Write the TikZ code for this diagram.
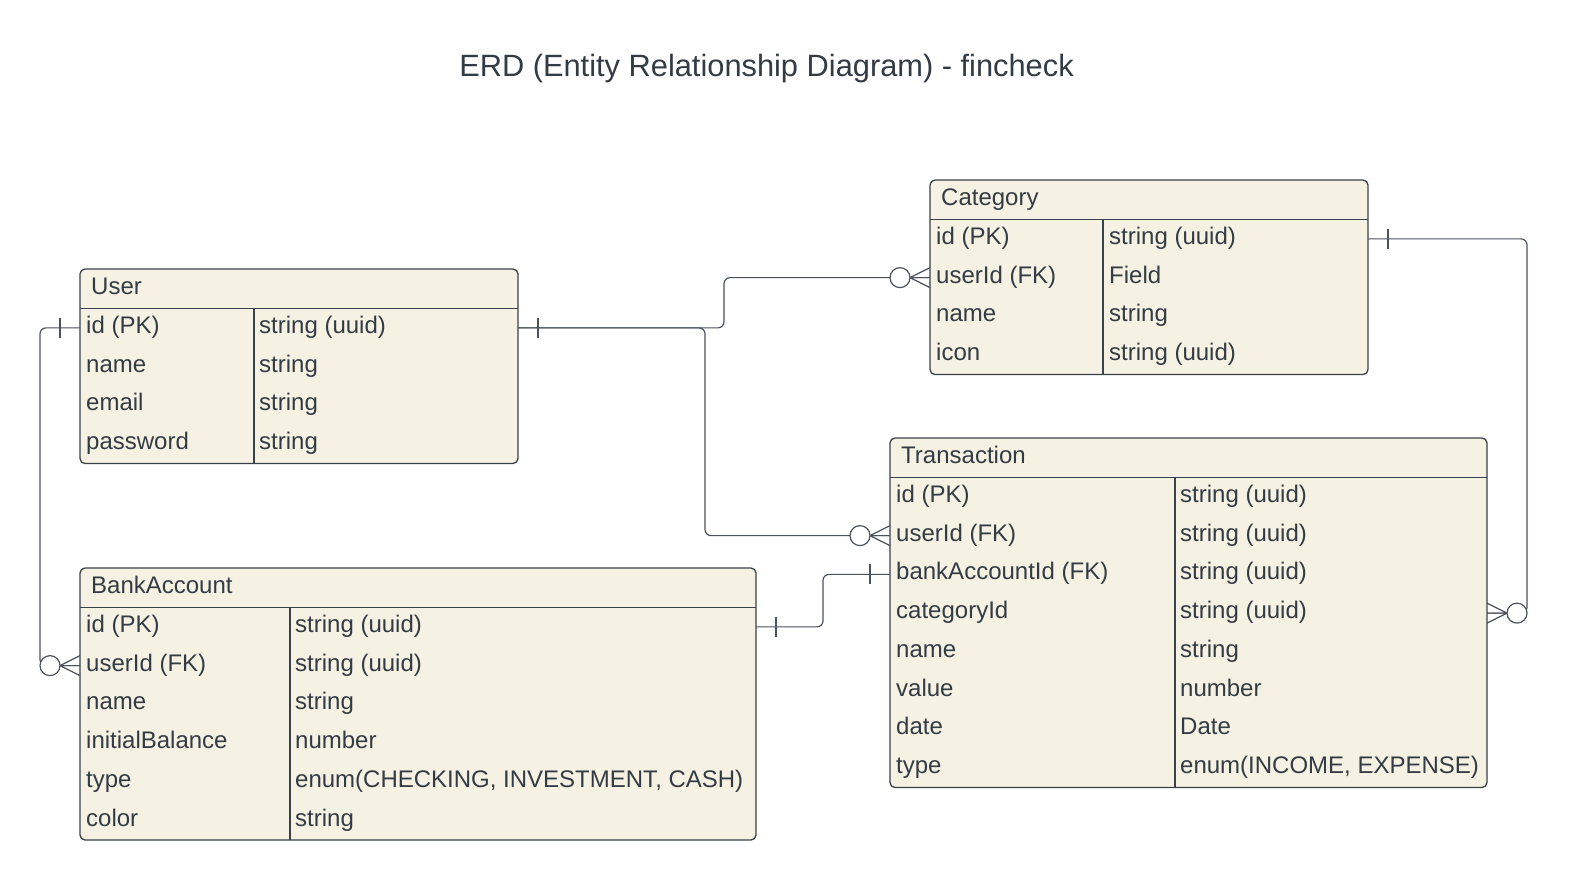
\documentclass[tikz,border=0pt]{standalone}
\usepackage{fontspec}
\setmainfont{Liberation Sans}
\definecolor{ln}{HTML}{3A414A}
\definecolor{cn}{HTML}{4B525B}
\definecolor{bg}{HTML}{F5F2E3}
\definecolor{tx}{HTML}{333B44}
\tikzset{
 ent/.style={draw=ln, fill=bg, line width=1.3pt, rounded corners=5pt, inner sep=0pt, outer sep=0pt},
 sep/.style={draw=ln, line width=1.3pt},
 rowcell/.style={inner sep=0pt, outer sep=0pt, minimum height=38.75pt},
 txt/.style={anchor=base west, inner sep=0pt, text=tx, font=\fontsize{24}{28}\selectfont},
 conn/.style={draw=cn, line width=1.2pt, rounded corners=6pt},
 mk/.style={draw=cn, line width=1.2pt},
 zmany/.pic={\draw[mk, fill=white] (-30,0) circle[radius=10pt]; \draw[mk] (-20,0) -- (0,10) (-20,0) -- (0,-10) (-20,0) -- (0,0);},
 onebar/.pic={\draw[mk] (-20,-10) -- (-20,10);}
}
\begin{document}
\begin{tikzpicture}[x=1pt,y=-1pt]
\useasboundingbox (0,0) rectangle (1576,884);
\node[txt, anchor=base, font=\fontsize{30.8}{36}\selectfont] (title) at (766.5,76) {ERD (Entity Relationship Diagram) - fincheck};

% User
\node[ent, minimum width=438pt, minimum height=194.5pt] (User) at (299,366.25) {};
\node[txt] (User-t) at (91,294.25) {User};
\foreach \a/\b [count=\i] in {id (PK)/string (uuid), name/string, email/string, password/string} {
 \node[rowcell, minimum width=438pt] (User-\i) at (299,{308.5+38.75*(\i-0.5)}) {};
 \node[txt] at (86,{308.5+38.75*(\i-0.5)+5.5}) {\a};
 \node[txt] at (259,{308.5+38.75*(\i-0.5)+5.5}) {\b};
}
\draw[sep] (80,308.5) -- (518,308.5) (254,308.5) -- (254,463.5);

% Category
\node[ent, minimum width=438pt, minimum height=194.5pt] (Cat) at (1149,277.25) {};
\node[txt] (Cat-t) at (941,205.25) {Category};
\foreach \a/\b [count=\i] in {id (PK)/string (uuid), userId (FK)/Field, name/string, icon/string (uuid)} {
 \node[rowcell, minimum width=438pt] (Cat-\i) at (1149,{219.5+38.75*(\i-0.5)}) {};
 \node[txt] at (936,{219.5+38.75*(\i-0.5)+5.5}) {\a};
 \node[txt] at (1109,{219.5+38.75*(\i-0.5)+5.5}) {\b};
}
\draw[sep] (930,219.5) -- (1368,219.5) (1103,219.5) -- (1103,374.5);

% Transaction
\node[ent, minimum width=597pt, minimum height=349.5pt] (Trans) at (1188.5,612.75) {};
\node[txt] (Trans-t) at (901,463.25) {Transaction};
\foreach \a/\b [count=\i] in {id (PK)/string (uuid), userId (FK)/string (uuid), bankAccountId (FK)/string (uuid), categoryId/string (uuid), name/string, value/number, date/Date, type/{enum(INCOME, EXPENSE)}} {
 \node[rowcell, minimum width=597pt] (Trans-\i) at (1188.5,{477.5+38.75*(\i-0.5)}) {};
 \node[txt] at (896,{477.5+38.75*(\i-0.5)+5.5}) {\a};
 \node[txt] at (1180,{477.5+38.75*(\i-0.5)+5.5}) {\b};
}
\draw[sep] (890,477.5) -- (1487,477.5) (1175,477.5) -- (1175,787.5);

% BankAccount
\node[ent, minimum width=676pt, minimum height=272pt] (Bank) at (418,704) {};
\node[txt] (Bank-t) at (91,593.25) {BankAccount};
\foreach \a/\b [count=\i] in {id (PK)/string (uuid), userId (FK)/string (uuid), name/string, initialBalance/number, type/{enum(CHECKING, INVESTMENT, CASH)}, color/string} {
 \node[rowcell, minimum width=676pt] (Bank-\i) at (418,{607.5+38.75*(\i-0.5)}) {};
 \node[txt] at (86,{607.5+38.75*(\i-0.5)+5.5}) {\a};
 \node[txt] at (295,{607.5+38.75*(\i-0.5)+5.5}) {\b};
}
\draw[sep] (80,607.5) -- (756,607.5) (290,607.5) -- (290,840);

% connectors
\draw[conn] (User-1.west) -- ++(-40,0) |- (Bank-2.west);
\draw[conn] (User-1.east) -- ++(206,0) |- (Cat-2.west);
\draw[conn] (User-1.east) -- ++(187,0) |- (Trans-2.west);
\draw[conn] (Bank-1.east) -- ++(67,0) |- (Trans-3.west);
\draw[conn] (Cat-1.east) -- ++(159,0) |- (Trans-4.east);

% cardinality marks
\pic at (User-1.west) {onebar};
\pic[xscale=-1] at (User-1.east) {onebar};
\pic at (Bank-2.west) {zmany};
\pic at (Cat-2.west) {zmany};
\pic at (Trans-2.west) {zmany};
\pic[xscale=-1] at (Bank-1.east) {onebar};
\pic at (Trans-3.west) {onebar};
\pic[xscale=-1] at (Cat-1.east) {onebar};
\pic[xscale=-1] at (Trans-4.east) {zmany};
\end{tikzpicture}
\end{document}
